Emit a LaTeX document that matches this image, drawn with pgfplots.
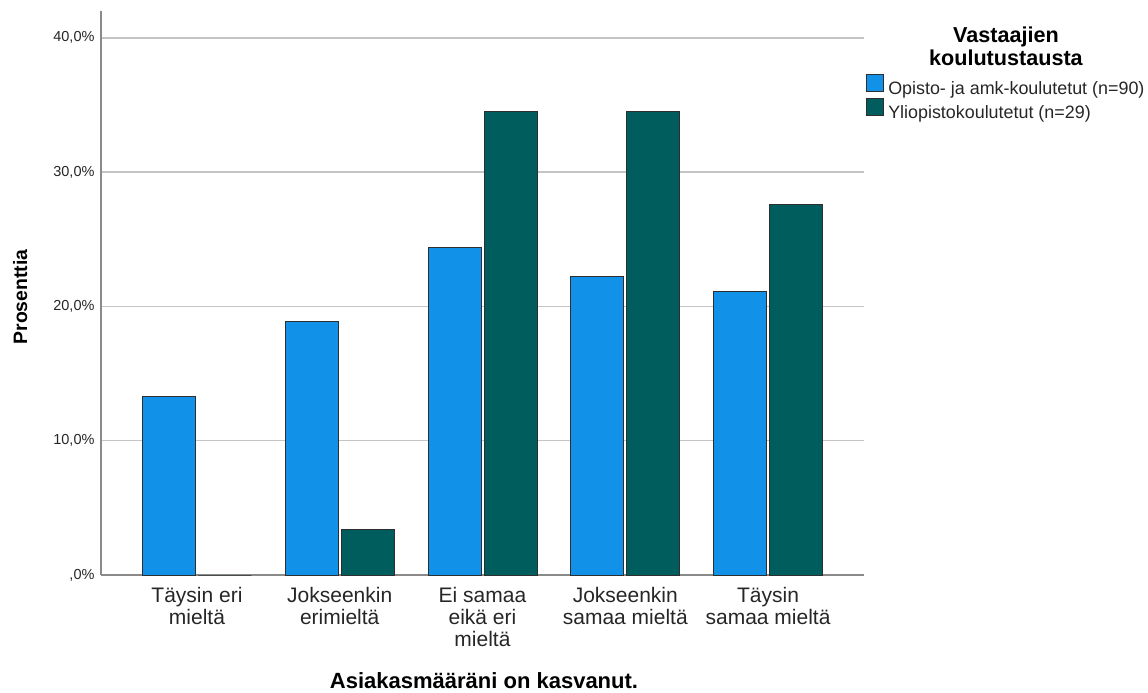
\documentclass[border=0pt]{standalone}
\usepackage{pgfplots}
\pgfplotsset{compat=1.18}
\usepackage{fontspec}
\setmainfont{Liberation Sans}
\definecolor{cblue}{HTML}{1192E8}
\definecolor{cteal}{HTML}{005D5D}
\definecolor{gridc}{HTML}{C4C4C4}
\definecolor{axc}{HTML}{8A8A8A}
\definecolor{edgec}{HTML}{2E2E2E}
\pgfplotsset{
  mylegend/.style={legend image code/.code={\draw[##1,draw=edgec,line width=1bp] (0bp,-2.5bp) rectangle (17bp,14.5bp);}}
}
\begin{document}
\begin{tikzpicture}
\useasboundingbox (0,0) rectangle (1148bp,693bp);
\begin{axis}[
  at={(101bp,118bp)}, anchor=south west,
  scale only axis, width=763bp, height=564bp,
  xmin=-0.672, xmax=4.672, ymin=0, ymax=42,
  ybar=3bp, bar width=53bp,
  axis x line*=bottom, axis y line*=left,
  axis line style={axc, line width=1.3bp, -},
  ymajorgrids, grid style={gridc, line width=1.3bp},
  major tick length=0pt, tick style={draw=none},
  ytick={0,10,20,30,40},
  yticklabels={{,0\%},{10,0\%},{20,0\%},{30,0\%},{40,0\%}},
  yticklabel style={font=\fontsize{14.5bp}{17bp}\selectfont, color=black!85, xshift=-3bp},
  xtick={0,1,2,3,4},
  xticklabels={{Täysin eri\\mieltä},{Jokseenkin\\erimieltä},{Ei samaa\\eikä eri\\mieltä},{Jokseenkin\\samaa mieltä},{Täysin\\samaa mieltä}},
  xticklabel style={align=center, font=\fontsize{21bp}{21.7bp}\selectfont, color=black!85, yshift=-9bp},
  xlabel={Asiakasmääräni on kasvanut.},
  xlabel style={at={(axis description cs:0.502,-0.1875)}, anchor=center, font=\bfseries\fontsize{22bp}{26bp}\selectfont},
  ylabel={Prosenttia},
  ylabel style={at={(axis description cs:-0.106,0.493)}, anchor=center, rotate=0, font=\bfseries\fontsize{19.4bp}{23bp}\selectfont},
  legend style={at={(axis description cs:1.0027,0.889)}, anchor=north west, draw=none, fill=none,
    font=\fontsize{17.9bp}{20bp}\selectfont, inner sep=0pt, row sep=0bp, column sep=2.5bp,
    nodes={inner sep=1.5bp, text=black!85}},
  legend cell align=left,
  every axis plot/.append style={draw=edgec, line width=1bp},
  clip=false,
]
\addplot[fill=cblue, mylegend] coordinates {(0,13.3) (1,18.9) (2,24.4) (3,22.2) (4,21.1)};
\addplot[fill=cteal, mylegend] coordinates {(0,0) (1,3.4) (2,34.5) (3,34.5) (4,27.6)};
\legend{Opisto- ja amk-koulutetut (n=90),Yliopistokoulutetut (n=29)}
\node[align=center, font=\bfseries\fontsize{21.6bp}{23bp}\selectfont] at (axis description cs:1.186,0.937) {Vastaajien\\koulutustausta};
\end{axis}
\end{tikzpicture}
\end{document}
